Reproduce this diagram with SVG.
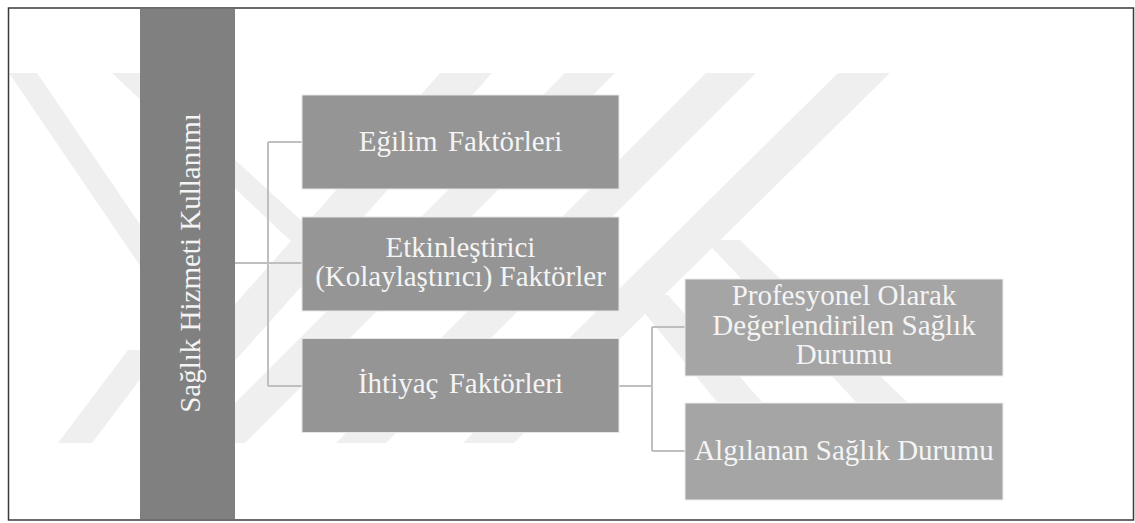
<svg xmlns="http://www.w3.org/2000/svg" width="1135" height="523" viewBox="0 0 1135 523">
<style>
.wm{fill:#efefef}
.bar{fill:#808080}
.b1{fill:#959595;stroke:#e6e6e6;stroke-width:1}
.b2{fill:#a5a5a5;stroke:#ececec;stroke-width:1}
.t{font-family:"Liberation Serif","Times New Roman",serif;font-size:29px;fill:#f4f4f4;text-anchor:middle}
.c{fill:none;stroke:#bfbfbf;stroke-width:2}
</style>
<rect x="0" y="0" width="1135" height="523" fill="#ffffff"/>
<g id="watermark">
<polygon class="wm" points="9,73 37,73 205,320 177,320"/>
<polygon class="wm" points="112,73 140,73 316,234 294,244"/>
<polygon class="wm" points="440,73 492,73 200,400 150,400"/>
<polygon class="wm" points="58,443 92,443 162,350 128,350"/>
<polygon class="wm" points="565,73 615,73 245,443 195,443"/>
<polygon class="wm" points="706,73 756,73 386,443 336,443"/>
<polygon class="wm" points="838,73 890,73 514,443 463,443"/>
<polygon class="wm" points="630,295 668,295 762,402 717,402"/>
<polygon class="wm" points="705,240 740,240 907,402 856,402"/>
</g>
<rect x="8.5" y="8" width="1125" height="512" fill="none" stroke="#3a3a3a" stroke-width="1.5"/>
<g id="root">
<rect class="bar" x="140" y="8.75" width="95" height="510.5"/>
<text class="t" transform="translate(200,263) rotate(-90)">Sağlık Hizmeti Kullanımı</text>
</g>
<g id="connectors">
<path class="c" d="M235,263 H268 M268,142 V386 M268,142 H302 M268,263 H302 M268,386 H302"/>
<path class="c" d="M619,386 H652 M652,327 V451 M652,327 H685 M652,451 H685"/>
</g>
<g id="egilim">
<rect class="b1" x="302" y="95" width="317" height="94"/>
<text class="t" x="460.5" y="151" word-spacing="3">Eğilim Faktörleri</text>
</g>
<g id="etkinlestirici">
<rect class="b1" x="302" y="217" width="317" height="94"/>
<text class="t" x="460.5" y="256.5">Etkinleştirici</text>
<text class="t" x="460.5" y="286">(Kolaylaştırıcı) Faktörler</text>
</g>
<g id="ihtiyac">
<rect class="b1" x="302" y="338.5" width="317" height="94"/>
<text class="t" x="460.5" y="393" word-spacing="3">İhtiyaç Faktörleri</text>
</g>
<g id="profesyonel">
<rect class="b2" x="685" y="279" width="318" height="97"/>
<text class="t" x="844" y="304.5">Profesyonel Olarak</text>
<text class="t" x="844" y="334.5">Değerlendirilen Sağlık</text>
<text class="t" x="844" y="364">Durumu</text>
</g>
<g id="algilanan">
<rect class="b2" x="685" y="403" width="318" height="97"/>
<text class="t" x="844" y="459.5">Algılanan Sağlık Durumu</text>
</g>
</svg>
